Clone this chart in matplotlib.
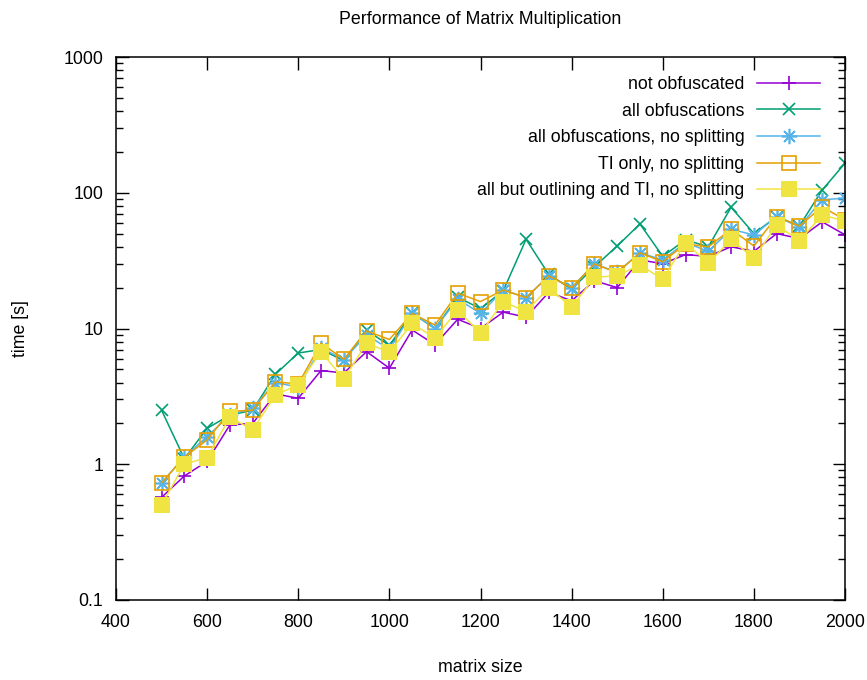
import numpy as np
import matplotlib
matplotlib.use("Agg")
import matplotlib.pyplot as plt
from matplotlib.ticker import FixedLocator, LogLocator, NullFormatter

plt.rcParams['font.family'] = ['Liberation Sans', 'DejaVu Sans']
FS = 12.8

# matrix sizes 500..2000 step 50
sizes = list(range(500, 2001, 50))

not_obf = [0.57, 0.82, 1.05, 1.95, 2.0, 3.3, 3.06, 4.9, 4.7, 6.75, 5.1, 9.75, 7.6, 11.7, 10.0,
           13.2, 12.1, 18.5, 16.0, 22.5, 20.0, 32.0, 30.0, 35.0, 34.0, 40.0, 37.0, 50.0, 46.0, 61.0, 49.0]
all_obf = [2.5, 1.1, 1.84, 2.3, 2.5, 4.6, 6.6, 7.0, 5.8, 9.7, 7.5, 13.0, 10.0, 17.0, 14.0,
           19.0, 45.4, 25.0, 19.5, 28.5, 40.5, 58.9, 34.0, 45.0, 40.0, 78.2, 50.0, 66.7, 57.0, 104.7, 165.0]
all_obf_nosplit = [0.73, 1.13, 1.6, 2.3, 2.6, 4.0, 3.7, 7.2, 5.9, 9.0, 7.0, 13.0, 10.0, 16.5, 12.9,
                   19.2, 16.9, 24.4, 20.0, 29.9, 26.0, 36.1, 32.0, 43.0, 37.0, 53.8, 48.9, 66.7, 56.0, 89.0, 91.0]
ti_only = [0.73, 1.13, 1.51, 2.45, 2.5, 4.05, 3.9, 7.8, 5.93, 9.6, 8.3, 12.9, 10.6, 18.2, 15.8,
           19.2, 16.9, 24.4, 20.0, 29.9, 25.8, 36.1, 31.0, 42.0, 40.0, 53.8, 40.5, 66.7, 56.9, 78.9, 63.0]
all_but = [0.50, 1.0, 1.12, 2.22, 1.79, 3.24, 3.84, 6.75, 4.23, 7.8, 6.7, 10.9, 8.5, 13.7, 9.2,
           15.8, 13.3, 20.0, 14.3, 23.8, 24.5, 29.4, 23.0, 42.9, 30.2, 45.4, 32.9, 57.8, 44.4, 68.5, 62.0]

fig = plt.figure(figsize=(8.67, 6.80), dpi=100)
ax = fig.add_axes([116/867, 1-600/680, (845-116)/867, (600-57)/680])

ax.plot(sizes, not_obf, color='#9400d3', lw=1.1, marker='+', ms=10, mew=1.2, label='not obfuscated')
ax.plot(sizes, all_obf, color='#009e73', lw=1.1, marker='x', ms=9, mew=1.2, label='all obfuscations')
ax.plot(sizes, all_obf_nosplit, color='#56b4e9', lw=1.1, marker=(8, 2, 0), ms=11, mew=1.2,
        label='all obfuscations, no splitting')
ax.plot(sizes, ti_only, color='#e69f00', lw=1.1, marker='s', ms=10, mfc='none', mew=1.2,
        label='TI only, no splitting')
ax.plot(sizes, all_but, color='#f0e442', lw=1.1, marker='s', ms=11, mew=0,
        label='all but outlining and TI, no splitting')

ax.set_yscale('log')
ax.set_xlim(400, 2000)
ax.set_ylim(0.1, 1000)
ax.xaxis.set_major_locator(FixedLocator([400, 600, 800, 1000, 1200, 1400, 1600, 1800, 2000]))
ax.yaxis.set_major_locator(FixedLocator([0.1, 1, 10, 100, 1000]))
ax.yaxis.set_minor_locator(LogLocator(base=10, subs=np.arange(2, 10)))
ax.yaxis.set_minor_formatter(NullFormatter())
ax.set_yticklabels(['0.1', '1', '10', '100', '1000'])

ax.tick_params(which='both', direction='in', top=True, right=True, labelsize=FS, width=1)
ax.tick_params(which='major', length=9)
ax.tick_params(axis='x', which='major', pad=10)
ax.tick_params(axis='y', which='major', pad=9)
ax.tick_params(which='minor', length=5)
for s in ax.spines.values():
    s.set_linewidth(1.1)

ax.set_title('Performance of Matrix Multiplication', fontsize=FS, pad=24)
ax.set_xlabel('matrix size', fontsize=FS)
ax.set_ylabel('time [s]', fontsize=FS)
ax.xaxis.set_label_coords(0.5, -0.108)
ax.yaxis.set_label_coords(-0.119, 0.5)

ax.legend(loc='upper right', frameon=False, markerfirst=False, fontsize=FS,
          handlelength=3.5, handletextpad=0.73, labelspacing=0.54,
          borderaxespad=0, bbox_to_anchor=(0.975, 0.978))

fig.savefig('out.png', dpi=100)
